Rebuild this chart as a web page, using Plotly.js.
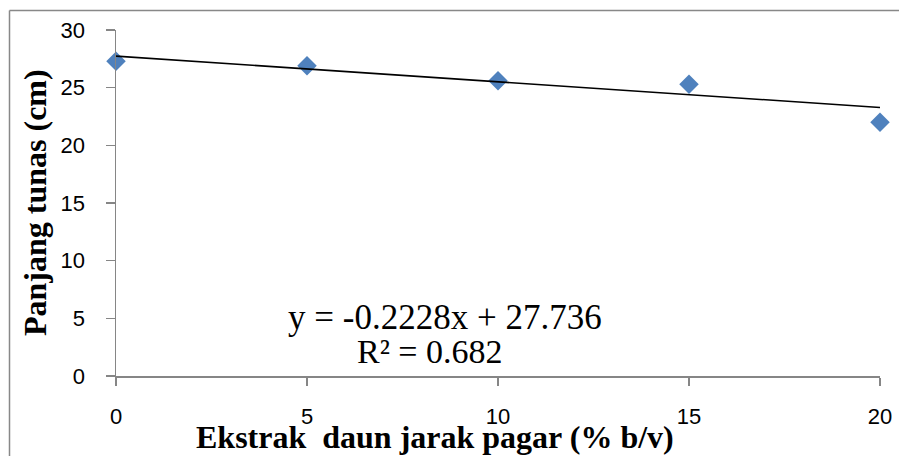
<!DOCTYPE html>
<html>
<head>
<meta charset="utf-8">
<script src="https://cdn.plot.ly/plotly-3.0.1.min.js"></script>
<style>
  html, body { margin: 0; padding: 0; background: #fff; }
  #chart { width: 899px; height: 456px; }
</style>
</head>
<body>
<div id="chart"></div>
<script>
// Data
const extractPct = [0, 5, 10, 15, 20];
const shootLength = [27.3, 26.9, 25.6, 25.3, 22.0];
// Linear trend line as printed on the chart
const trendSlope = -0.2228;
const trendIntercept = 27.736;
const trendR2 = 0.682;
const xTickVals = [0, 5, 10, 15, 20];
const yTickVals = [0, 5, 10, 15, 20, 25, 30];

const xMin = extractPct[0], xMax = extractPct[extractPct.length - 1];
const trendX = [xMin, xMax];
const trendY = trendX.map(x => trendSlope * x + trendIntercept);

const L = 116, R = 19, T = 30, B = 80, W = 899, H = 456;
const pw = W - L - R, ph = H - T - B;
const px = v => (v - L) / pw;       // pixel x -> paper x
const py = v => (H - B - v) / ph;   // pixel y -> paper y

const axisGray = '#868686';
const tickFont = { family: 'Liberation Sans, Arial, sans-serif', size: 22, color: '#000' };
const serif = 'Liberation Serif, Times New Roman, serif';

const traces = [
  {
    x: extractPct, y: shootLength, type: 'scatter', mode: 'markers',
    marker: { symbol: 'diamond', size: 15, color: '#4F81BD', line: { width: 0 } },
    cliponaxis: false, hoverinfo: 'x+y'
  },
  {
    x: trendX, y: trendY, type: 'scatter', mode: 'lines',
    line: { color: '#000', width: 1.6 }, cliponaxis: false, hoverinfo: 'skip'
  }
];

const layout = {
  width: W, height: H,
  margin: { l: L, r: R, t: T, b: B },
  paper_bgcolor: '#fff', plot_bgcolor: '#fff',
  showlegend: false,
  xaxis: {
    range: [xMin, xMax], tickmode: 'array', tickvals: xTickVals,
    showgrid: false, zeroline: false, showline: true, linecolor: axisGray, linewidth: 1.5,
    ticks: 'outside', ticklen: 8, tickwidth: 1.5, tickcolor: axisGray,
    tickfont: tickFont, ticklabelstandoff: 12
  },
  yaxis: {
    range: [0, 30], tickmode: 'array', tickvals: yTickVals,
    showgrid: false, zeroline: false, showline: true, linecolor: axisGray, linewidth: 1.5,
    ticks: 'outside', ticklen: 9, tickwidth: 1.5, tickcolor: axisGray,
    tickfont: tickFont, ticklabelstandoff: 16
  },
  annotations: [
    {
      xref: 'paper', yref: 'paper', x: px(35), y: py(203), textangle: -90,
      xanchor: 'center', yanchor: 'middle', showarrow: false,
      text: '<b>Panjang tunas (cm)</b>',
      font: { family: serif, size: 32, color: '#000' }
    },
    {
      xref: 'paper', yref: 'paper', x: px(435), y: py(437),
      xanchor: 'center', yanchor: 'middle', showarrow: false,
      text: '<b>Ekstrak  daun jarak pagar (% b/v)</b>',
      font: { family: serif, size: 32, color: '#000' }
    },
    {
      xref: 'paper', yref: 'paper', x: px(445), y: py(317),
      xanchor: 'center', yanchor: 'middle', showarrow: false,
      text: 'y = ' + trendSlope + 'x + ' + trendIntercept,
      font: { family: serif, size: 35, color: '#000' }
    },
    {
      xref: 'paper', yref: 'paper', x: px(430), y: py(351),
      xanchor: 'center', yanchor: 'middle', showarrow: false,
      text: 'R² = ' + trendR2,
      font: { family: serif, size: 34, color: '#000' }
    }
  ],
  shapes: [
    { type: 'line', xref: 'paper', yref: 'paper', x0: px(9.5), x1: px(9.5),
      y0: py(10.5), y1: py(470), line: { color: '#888', width: 1.5 } },
    { type: 'line', xref: 'paper', yref: 'paper', x0: px(9.5), x1: px(910),
      y0: py(10.5), y1: py(10.5), line: { color: '#888', width: 1.5 } }
  ]
};

Plotly.newPlot('chart', traces, layout, { displayModeBar: false, staticPlot: true });
</script>
</body>
</html>
